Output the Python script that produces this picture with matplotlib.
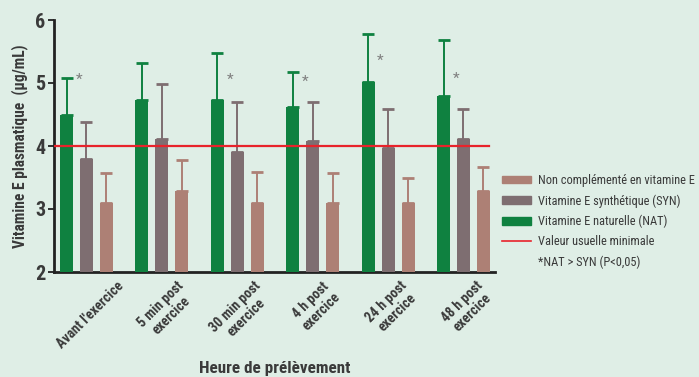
import matplotlib
matplotlib.use("Agg")
import matplotlib.pyplot as plt
import numpy as np
from matplotlib.patches import Patch
from matplotlib.lines import Line2D

# ---- data ----
groups = ["Avant l'exercice", "5 min post\nexercice", "30 min post\nexercice",
          "4 h post\nexercice", "24 h post\nexercice", "48 h post\nexercice"]
nat_mean = [4.50, 4.73, 4.73, 4.62, 5.02, 4.79]
nat_sd = [0.58, 0.59, 0.75, 0.56, 0.76, 0.90]
syn_mean = [3.80, 4.11, 3.90, 4.08, 3.97, 4.11]
syn_sd = [0.58, 0.87, 0.80, 0.62, 0.61, 0.47]
non_mean = [3.10, 3.29, 3.10, 3.10, 3.10, 3.29]
non_sd = [0.47, 0.49, 0.48, 0.47, 0.40, 0.38]
ref_value = 4.0
sig_y = [5.05, None, 5.05, 5.02, 5.35, 5.06]
yticks = [2, 3, 4, 5, 6]

label_non = "Non complémenté en vitamine E"
label_syn = "Vitamine E synthétique (SYN)"
label_nat = "Vitamine E naturelle (NAT)"
label_ref = "Valeur usuelle minimale"
label_sig = "*NAT > SYN (P<0,05)"

# ---- style ----
bg = "#dfeee6"
c_nat = "#0f8140"
c_syn = "#7e6e71"
c_non = "#ad8075"
c_ref = "#e8232b"
txt = "#3a3a3a"
plt.rcParams["font.family"] = ["Liberation Sans Narrow", "DejaVu Sans Condensed",
                               "Roboto Condensed", "Roboto", "DejaVu Sans"]

fig = plt.figure(figsize=(6.99, 3.77), dpi=100, facecolor=bg)
ax = fig.add_axes([54/699, 1-272/377, 441/699, 252/377], facecolor=bg)

x = np.arange(len(groups))
w = 0.172
off = 0.265

for vals, sds, col, dx in [(nat_mean, nat_sd, c_nat, -off),
                           (syn_mean, syn_sd, c_syn, 0.0),
                           (non_mean, non_sd, c_non, off)]:
    ax.errorbar(x + dx, vals, yerr=[np.zeros(len(sds)), sds], fmt="none",
                ecolor=col, elinewidth=1.4, capsize=4, capthick=2, zorder=2)
    ax.bar(x + dx, [v - 2 for v in vals], bottom=2, width=w, color=col, zorder=3)

ax.axhline(ref_value, xmin=0, xmax=0.986, color=c_ref, lw=1.6, zorder=4)

for xi, sy in zip(x, sig_y):
    if sy is not None:
        ax.text(xi - 0.10, sy, "*", ha="center", va="center", fontsize=11,
                color="#808080", zorder=5)

ax.set_xlim(-0.431, 5.418)
ax.set_ylim(2, 6)
ax.set_yticks(yticks)
ax.set_yticklabels([str(t) for t in yticks], fontsize=14.5, fontweight="bold", color=txt)
ax.tick_params(axis="y", length=4, width=1.3, color="#222222", pad=2)
ax.set_xticks(x + 0.05)
ax.set_xticklabels(groups, rotation=45, ha="center", va="top", multialignment="center",
                   fontsize=10, fontweight="bold", color=txt, linespacing=1.1)
ax.tick_params(axis="x", length=0, pad=5)

for s in ["top", "right"]:
    ax.spines[s].set_visible(False)
for s in ["left", "bottom"]:
    ax.spines[s].set_linewidth(2)
    ax.spines[s].set_color("#222222")

ax.set_ylabel("Vitamine E plasmatique  (µg/mL)", fontsize=11.2, fontweight="bold",
              color=txt, labelpad=5)
fig.text(275/699, 1-369/377, "Heure de prélèvement", ha="center", va="center",
         fontsize=12.3, fontweight="bold", color=txt)

handles = [Patch(color=c_non), Patch(color=c_syn), Patch(color=c_nat),
           Line2D([], [], color=c_ref, lw=1.2),
           Line2D([], [], color=bg, alpha=0)]
leg = fig.legend(handles, [label_non, label_syn, label_nat, label_ref, label_sig],
                 loc="upper left", bbox_to_anchor=(502/699, 1-174/377),
                 frameon=False, fontsize=8.9, handlelength=2.35, handleheight=0.57,
                 handletextpad=0.55, labelspacing=0.58, borderpad=0, borderaxespad=0)
for t in leg.get_texts():
    t.set_color(txt)

fig.savefig("out.png", dpi=100, facecolor=bg)
